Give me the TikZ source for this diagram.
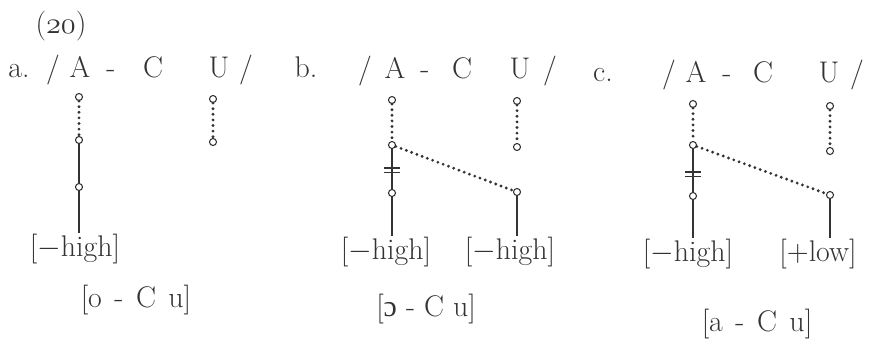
\documentclass[tikz,border=0pt]{standalone}
\usepackage{fontspec}
\newfontfamily\ipafont{Liberation Serif}
\tikzset{>=latex}
\colorlet{ink}{black!80}
\tikzstyle{knot}=[circle,draw=ink,line width=0.6pt,inner sep=0pt,minimum size=4pt]
\tikzstyle{assoc}=[ink,line width=0.8pt]
\tikzstyle{dotassoc}=[ink,line width=1.8pt,line cap=round,dash pattern=on 0pt off 3.2pt]
\tikzstyle{seg}=[ink,anchor=base,inner sep=0pt,font=\fontsize{17}{20}\selectfont]
\def\cut#1#2{\draw[assoc] (#1)++(-8,#2) --++ (16,0) ++(-16,4.5) --++ (16,0)}

\begin{document}
\begin{tikzpicture}[x=0.02cm,y=-0.02cm]
  \useasboundingbox (0,0) rectangle (869,343);

  \node[seg] (num) at (61,33) {({\usefont{OML}{cmm}{m}{it}20})};

  % (a)
  \node[seg] (la) at (19,77) {a.};
  \node[seg] (a1) at (53,77) {/};
  \node[seg] (aA) at (80,77) {A};
  \node[seg] (a2) at (111,77) {-};
  \node[seg] (a3) at (153,77) {C};
  \node[seg] (aU) at (219,77) {U};
  \node[seg] (a4) at (246,77) {/};
  \node[knot] (aa1) at (79,97) {};
  \node[knot] (aa2) at (79,140) {};
  \node[knot] (aa3) at (79,187) {};
  \node[knot] (au1) at (213,99) {};
  \node[knot] (au2) at (213,142) {};
  \node[seg] (ah) at (75,256) {[$-$high]};
  \draw[dotassoc] (aa1) -- (aa2);
  \draw[assoc] (aa2) -- (aa3);
  \draw[assoc] (aa3) -- (aa3 |- ah.north);
  \draw[dotassoc] (au1) -- (au2);
  \node[seg] (aout) at (136,307) {[o\kern2pt{} - \kern2pt C \kern2pt u]};

  % (b)
  \node[seg] (lb) at (306,77) {b.};
  \node[seg] (b1) at (365,78) {/};
  \node[seg] (bA) at (395,78) {A};
  \node[seg] (b2) at (425,78) {-};
  \node[seg] (b3) at (462,78) {C};
  \node[seg] (bU) at (520,78) {U};
  \node[seg] (b4) at (550,78) {/};
  \node[knot] (ba1) at (392,100) {};
  \node[knot] (ba2) at (392,145) {};
  \node[knot] (ba3) at (392,193) {};
  \node[knot] (bu1) at (517,101) {};
  \node[knot] (bu2) at (517,147) {};
  \node[knot] (bu3) at (517,192) {};
  \node[seg] (bh1) at (386,259) {[$-$high]};
  \node[seg] (bh2) at (510,259) {[$-$high]};
  \draw[dotassoc] (ba1) -- (ba2);
  \draw[assoc] (ba2) -- (ba3);
  \cut{ba2}{23};
  \draw[assoc] (ba3) -- (ba3 |- bh1.north);
  \draw[dotassoc] (bu1) -- (bu2);
  \draw[dotassoc] (ba2) -- (bu3);
  \draw[assoc] (bu3) -- (bu3 |- bh2.north);
  \node[seg] (bout) at (426,316) {[{\ipafont ɔ} - C u]};

  % (c)
  \node[seg] (lc) at (603,81) {c.};
  \node[seg] (c1) at (669,82) {/};
  \node[seg] (cA) at (696,82) {A};
  \node[seg] (c2) at (727,82) {-};
  \node[seg] (c3) at (763,82) {C};
  \node[seg] (cU) at (829,82) {U};
  \node[seg] (c4) at (857,82) {/};
  \node[knot] (ca1) at (693,104) {};
  \node[knot] (ca2) at (693,145) {};
  \node[knot] (ca3) at (693,196) {};
  \node[knot] (cu1) at (830,106) {};
  \node[knot] (cu2) at (830,151) {};
  \node[knot] (cu3) at (830,195) {};
  \node[seg] (ch1) at (688,261) {[$-$high]};
  \node[seg] (ch2) at (818,261) {[$+$low]};
  \draw[dotassoc] (ca1) -- (ca2);
  \draw[assoc] (ca2) -- (ca3);
  \cut{ca2}{27};
  \draw[assoc] (ca3) -- (ca3 |- ch1.north);
  \draw[dotassoc] (cu1) -- (cu2);
  \draw[dotassoc] (ca2) -- (cu3);
  \draw[assoc] (cu3) -- (cu3 |- ch2.north);
  \node[seg] (cout) at (757,331) {[a\kern2pt{} - \kern2pt C \kern2pt u]};

\end{tikzpicture}
\end{document}
